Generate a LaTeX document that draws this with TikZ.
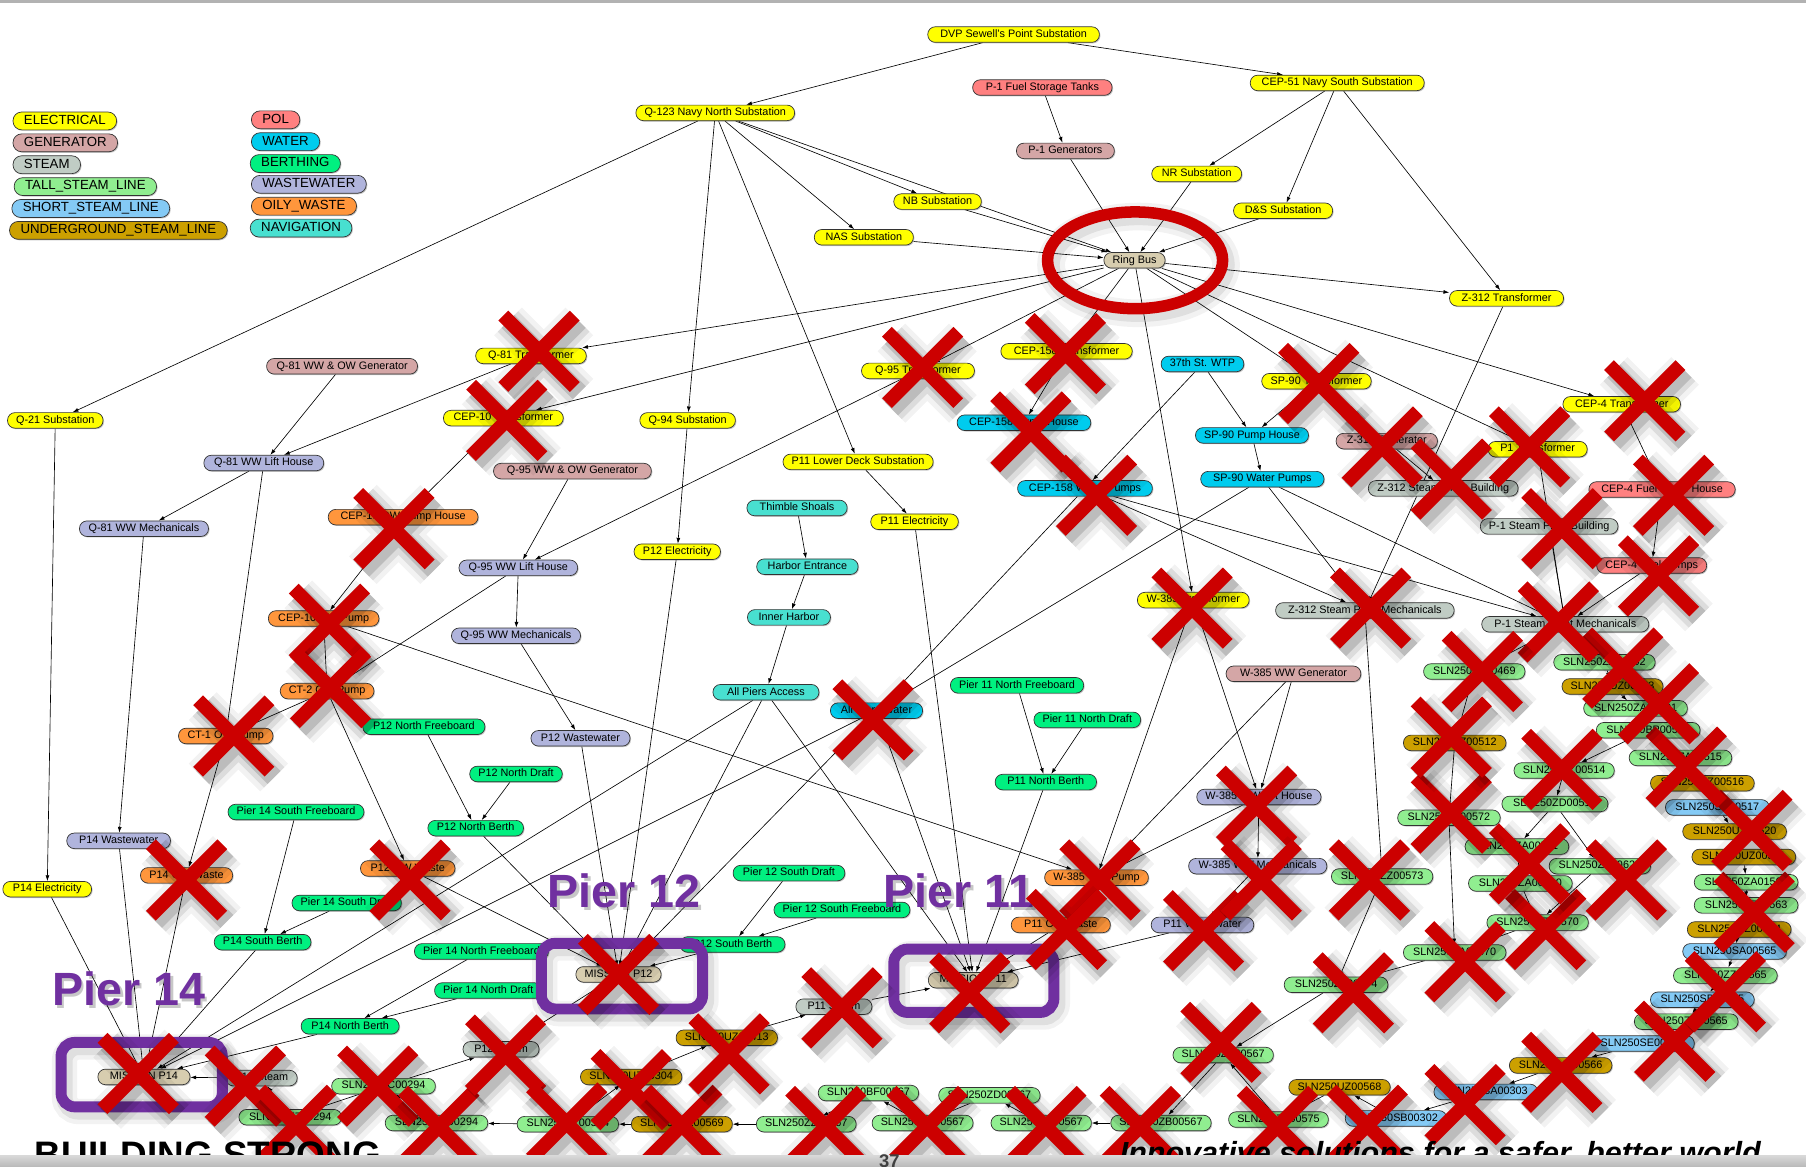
\documentclass[tikz,border=0pt]{standalone}
\usepackage{fontspec}
\setmainfont{Liberation Sans}
\usetikzlibrary{arrows.meta,shadows,backgrounds}

\definecolor{xred}{RGB}{204,0,0}
\definecolor{xpurple}{RGB}{112,48,160}
\definecolor{cElec}{RGB}{255,255,0}
\definecolor{cGen}{RGB}{212,166,166}
\definecolor{cSteam}{RGB}{192,204,196}
\definecolor{cTall}{RGB}{144,238,144}
\definecolor{cShort}{RGB}{132,202,245}
\definecolor{cUnder}{RGB}{204,160,0}
\definecolor{cPol}{RGB}{255,128,128}
\definecolor{cWater}{RGB}{0,204,238}
\definecolor{cBerth}{RGB}{0,240,128}
\definecolor{cWaste}{RGB}{176,180,220}
\definecolor{cOily}{RGB}{255,150,60}
\definecolor{cNav}{RGB}{72,224,208}
\definecolor{cMiss}{RGB}{215,205,175}

\newcommand\mknode[6]{\node[#1,minimum width=#5pt] (#2) at (#3,#4) {#6};}

\tikzset{
  box/.style={draw=black!80, line width=0.6pt, rounded corners=6.5pt,
    minimum height=13.5pt, inner xsep=7.5pt, inner ysep=0pt,
    text height=6.8pt, text depth=2pt, font=\fontsize{9.4}{10}\selectfont,
    drop shadow={shadow xshift=0.9pt, shadow yshift=-0.9pt, opacity=0.45}},
  leg/.style={box, font=\fontsize{11.5}{12}\selectfont, minimum height=15.5pt,
    rounded corners=7.5pt, inner xsep=9.5pt, text height=8.3pt, text depth=2.4pt, anchor=west},
  kElec/.style={box, fill=cElec},
  kGen/.style={box, fill=cGen},
  kSteam/.style={box, fill=cSteam},
  kTall/.style={box, fill=cTall},
  kShort/.style={box, fill=cShort},
  kUnder/.style={box, fill=cUnder},
  kPol/.style={box, fill=cPol},
  kWater/.style={box, fill=cWater},
  kBerth/.style={box, fill=cBerth},
  kWaste/.style={box, fill=cWaste},
  kOily/.style={box, fill=cOily},
  kNav/.style={box, fill=cNav},
  kMiss/.style={box, fill=cMiss},
  link/.style={draw=black, line width=0.55pt, -{Latex[length=5pt,width=3.4pt]}},
  pierlabel/.style={anchor=base west, inner sep=0pt, font=\fontsize{40.5}{40}\selectfont\bfseries},
  redx/.pic={
    \draw[line width=34pt, black, opacity=0.05] (-27,-26) -- (35,36) (35,-26) -- (-27,36);
    \draw[line width=25pt, black, opacity=0.09] (-27,-26) -- (35,36) (35,-26) -- (-27,36);
    \draw[line width=16pt, black, opacity=0.14] (-27,-26) -- (35,36) (35,-26) -- (-27,36);
    \draw[line width=12pt, xred] (-31,-31) -- (31,31) (31,-31) -- (-31,31);
  }
}

\begin{document}
\begin{tikzpicture}[x=1pt,y=-1pt]
\useasboundingbox (0,0) rectangle (1568,1013);

% ---------- legend ----------
\node[leg, fill=cElec]  (lgElec)  at (11,105) {ELECTRICAL};
\node[leg, fill=cGen]   (lgGen)   at (11,124) {GENERATOR};
\node[leg, fill=cSteam] (lgSteam) at (11,143) {STEAM};
\node[leg, fill=cTall]  (lgTall)  at (12,162) {TALL\_STEAM\_LINE};
\node[leg, fill=cShort] (lgShort) at (10,181) {SHORT\_STEAM\_LINE};
\node[leg, fill=cUnder] (lgUnder) at (8,200)  {UNDERGROUND\_STEAM\_LINE};
\node[leg, fill=cPol]   (lgPol)   at (218,104) {POL};
\node[leg, fill=cWater] (lgWater) at (218,123) {WATER};
\node[leg, fill=cBerth] (lgBerth) at (217,142) {BERTHING};
\node[leg, fill=cWaste] (lgWaste) at (218,160) {WASTEWATER};
\node[leg, fill=cOily]  (lgOily)  at (218,179) {OILY\_WASTE};
\node[leg, fill=cNav]   (lgNav)   at (217,198) {NAVIGATION};

% ---------- facility nodes ----------
\mknode{kElec}{dvp}{880}{30}{149}{DVP Sewell's Point Substation}
\mknode{kElec}{cep51}{1161}{72}{151}{CEP-51 Navy South Substation}
\mknode{kPol}{p1fst}{905}{76}{121}{P-1 Fuel Storage Tanks}
\mknode{kElec}{q123}{621}{98}{137}{Q-123 Navy North Substation}
\mknode{kGen}{p1gen}{925}{131}{85}{P-1 Generators}
\mknode{kElec}{nr}{1039}{151}{78}{NR Substation}
\mknode{kElec}{nb}{814}{175}{76}{NB Substation}
\mknode{kElec}{ds}{1114}{183}{86}{D\&S Substation}
\mknode{kElec}{nas}{750}{206}{86}{NAS Substation}
\mknode{kMiss}{ring}{985}{226}{52}{Ring Bus}
\mknode{kElec}{z312t}{1308}{259}{99}{Z-312 Transformer}
\mknode{kElec}{q81t}{461}{309}{96}{Q-81 Transformer}
\mknode{kGen}{q81gen}{297}{318}{131}{Q-81 WW \& OW Generator}
\mknode{kElec}{cep158t}{926}{305}{114}{CEP-158 Transformer}
\mknode{kElec}{q95t}{797}{322}{98}{Q-95 Transformer}
\mknode{kWater}{wtp37}{1044}{316}{70}{37th St. WTP}
\mknode{kElec}{sp90t}{1143}{331}{95}{SP-90 Transformer}
\mknode{kElec}{cep4t}{1408}{351}{102}{CEP-4 Transformer}
\mknode{kElec}{q21}{48}{365}{82}{Q-21 Substation}
\mknode{kElec}{cep10t}{437}{363}{104}{CEP-10 Transformer}
\mknode{kElec}{q94}{597}{365}{81}{Q-94 Substation}
\mknode{kWater}{cep158ph}{889}{367}{116}{CEP-158 Pump House}
\mknode{kWater}{sp90ph}{1087}{378}{97}{SP-90 Pump House}
\mknode{kGen}{z312gen}{1204}{383}{88}{Z-312 Generator}
\mknode{kElec}{p1t}{1335}{390}{86}{P1 Transformer}
\mknode{kWaste}{q81lh}{229}{402}{104}{Q-81 WW Lift House}
\mknode{kElec}{p11lds}{745}{401}{125}{P11 Lower Deck Substation}
\mknode{kGen}{q95gen}{497}{409}{137}{Q-95 WW \& OW Generator}
\mknode{kWater}{sp90wp}{1096}{416}{107}{SP-90 Water Pumps}
\mknode{kSteam}{z312spb}{1253}{424}{130}{Z-312 Steam Plant Building}
\mknode{kWater}{cep158wp}{942}{424}{117}{CEP-158 Water Pumps}
\mknode{kPol}{cep4fph}{1443}{425}{127}{CEP-4 Fuel Pump House}
\mknode{kNav}{thimble}{692}{441}{87}{Thimble Shoals}
\mknode{kOily}{cep10owph}{350}{449}{130}{CEP-10 OW Pump House}
\mknode{kSteam}{p1spb}{1345}{457}{119}{P-1 Steam Plant Building}
\mknode{kWaste}{q81mech}{125}{459}{112}{Q-81 WW Mechanicals}
\mknode{kElec}{p11el}{794}{453}{76}{P11 Electricity}
\mknode{kElec}{p12el}{588}{479}{75}{P12 Electricity}
\mknode{kNav}{harbor}{701}{492}{88}{Harbor Entrance}
\mknode{kWaste}{q95lh}{450}{493}{103}{Q-95 WW Lift House}
\mknode{kPol}{cep4fp}{1434}{491}{93}{CEP-4 Fuel Pumps}
\mknode{kElec}{w385t}{1036}{521}{97}{W-385 Transformer}
\mknode{kSteam}{z312spm}{1185}{530}{155}{Z-312 Steam Plant Mechanicals}
\mknode{kNav}{inner}{685}{536}{72}{Inner Harbor}
\mknode{kOily}{cep10owp}{281}{537}{96}{CEP-10 OW Pump}
\mknode{kSteam}{p1spm}{1359}{542}{145}{P-1 Steam Plant Mechanicals}
\mknode{kWaste}{q95mech}{448}{552}{112}{Q-95 WW Mechanicals}
\mknode{kTall}{s469}{1280}{583}{88}{SLN250ZZ00469}
\mknode{kTall}{s502}{1393}{575}{88}{SLN250ZZ00502}
\mknode{kGen}{w385gen}{1123}{585}{117}{W-385 WW Generator}
\mknode{kUnder}{s503}{1400}{596}{86}{SLN250UZ00503}
\mknode{kBerth}{p11nf}{883}{595}{114}{Pier 11 North Freeboard}
\mknode{kOily}{ct2}{284}{600}{81}{CT-2 OW Pump}
\mknode{kNav}{apa}{665}{601}{92}{All Piers Access}
\mknode{kTall}{s501}{1420}{615}{90}{SLN250ZA00501}
\mknode{kWater}{apw}{761}{617}{80}{All Piers Water}
\mknode{kBerth}{p11nd}{944}{625}{88}{Pier 11 North Draft}
\mknode{kBerth}{p12nf}{368}{631}{106}{P12 North Freeboard}
\mknode{kTall}{s505}{1431}{634}{90}{SLN250BP00505}
\mknode{kOily}{ct1}{196}{639}{82}{CT-1 OW Pump}
\mknode{kWaste}{p12ww}{504}{641}{86}{P12 Wastewater}
\mknode{kUnder}{s512}{1263}{645}{89}{SLN250UZ00512}
\mknode{kTall}{s515}{1459}{658}{89}{SLN250ZA00515}
\mknode{kTall}{s514}{1358}{669}{87}{SLN250ZZ00514}
\mknode{kBerth}{p12nd}{448}{672}{80}{P12 North Draft}
\mknode{kUnder}{s516}{1478}{680}{90}{SLN250UZ00516}
\mknode{kBerth}{p11nb}{908}{679}{88}{P11 North Berth}
\mknode{kWaste}{w385lh}{1093}{692}{107}{W-385 WW Lift House}
\mknode{kTall}{s513}{1350}{698}{92}{SLN250ZD00513}
\mknode{kShort}{s517}{1491}{701}{90}{SLN250SA00517}
\mknode{kBerth}{p14sf}{257}{705}{113}{Pier 14 South Freeboard}
\mknode{kTall}{s572}{1258}{710}{89}{SLN250ZZ00572}
\mknode{kBerth}{p12nb}{413}{719}{83}{P12 North Berth}
\mknode{kUnder}{s520}{1506}{722}{90}{SLN250UZ00520}
\mknode{kWaste}{p14ww}{103}{730}{90}{P14 Wastewater}
\mknode{kTall}{s511}{1317}{735}{90}{SLN250ZA00511}
\mknode{kUnder}{s521}{1514}{744}{90}{SLN250UZ00521}
\mknode{kTall}{s629}{1389}{752}{88}{SLN250ZZ00629}
\mknode{kWaste}{w385mech}{1092}{752}{120}{W-385 WW Mechanicals}
\mknode{kOily}{p12ow}{354}{754}{82}{P12 OW Waste}
\mknode{kBerth}{p12sd}{685}{758}{97}{Pier 12 South Draft}
\mknode{kOily}{p14ow}{162}{760}{80}{P14 OW Waste}
\mknode{kOily}{w385pump}{952}{762}{86}{W-385 WW Pump}
\mknode{kTall}{s573}{1200}{761}{88}{SLN250ZZ00573}
\mknode{kTall}{s562}{1516}{766}{90}{SLN250ZA01562}
\mknode{kTall}{s510}{1320}{767}{90}{SLN250ZA00510}
\mknode{kElec}{p14el}{41}{772}{77}{P14 Electricity}
\mknode{kBerth}{p14sd}{301}{784}{91}{Pier 14 South Draft}
\mknode{kTall}{s563}{1516}{786}{90}{SLN250ZZ00563}
\mknode{kBerth}{p12sf}{731}{790}{118}{Pier 12 South Freeboard}
\mknode{kTall}{s570u}{1335}{801}{88}{SLN250ZZ00570}
\mknode{kOily}{p11ow}{921}{803}{86}{P11 OW Waste}
\mknode{kWaste}{p11ww}{1044}{803}{89}{P11 Wastewater}
\mknode{kUnder}{s564}{1510}{807}{90}{SLN250UZ00564}
\mknode{kBerth}{p14sb}{228}{818}{83}{P14 South Berth}
\mknode{kBerth}{p12sb}{636}{820}{91}{P12 South Berth}
\mknode{kBerth}{p14nf}{418}{826}{114}{Pier 14 North Freeboard}
\mknode{kShort}{s565sa}{1506}{826}{90}{SLN250SA00565}
\mknode{kTall}{s570l}{1263}{827}{89}{SLN250ZA00570}
\mknode{kMiss}{mp12}{537}{846}{74}{MISSION P12}
\mknode{kTall}{s565zz}{1498}{847}{90}{SLN250ZZ00565}
\mknode{kMiss}{mp11}{845}{851}{78}{MISSION P11}
\mknode{kTall}{s574}{1160}{855}{90}{SLN250ZZ00574}
\mknode{kBerth}{p14nd}{424}{860}{85}{Pier 14 North Draft}
\mknode{kShort}{s565sb}{1478}{868}{90}{SLN250SB00565}
\mknode{kSteam}{p11steam}{724}{874}{66}{P11 Steam}
\mknode{kTall}{s565za}{1464}{887}{90}{SLN250ZA00565}
\mknode{kBerth}{p14nb}{304}{891}{85}{P14 North Berth}
\mknode{kUnder}{s413}{631}{901}{88}{SLN250UZ00413}
\mknode{kShort}{s565se}{1426}{906}{90}{SLN250SE00565}
\mknode{kSteam}{p12steam}{435}{911}{66}{P12 Steam}
\mknode{kTall}{s567za}{1062}{916}{85}{SLN250ZA00567}
\mknode{kUnder}{s566}{1355}{925}{89}{SLN250UZ00566}
\mknode{kMiss}{mp14}{125}{935}{80}{MISSION P14}
\mknode{kSteam}{p14steam}{227}{936}{62}{P14 Steam}
\mknode{kUnder}{s304u}{548}{935}{88}{SLN250UZ00304}
\mknode{kTall}{s294c}{333}{943}{90}{SLN250ZC00294}
\mknode{kUnder}{s568}{1163}{944}{88}{SLN250UZ00568}
\mknode{kShort}{s303}{1290}{948}{90}{SLN250SA00303}
\mknode{kTall}{s567bf}{754}{949}{86}{SLN250BF00567}
\mknode{kTall}{s567zd}{859}{951}{88}{SLN250ZD00567}
\mknode{kTall}{s294l}{252}{970}{89}{SLN250ZZ00294}
\mknode{kShort}{s302}{1212}{971}{88}{SLN250SB00302}
\mknode{kTall}{s575}{1110}{972}{84}{SLN250ZZ00575}
\mknode{kTall}{s294r}{379}{975}{89}{SLN250ZA00294}
\mknode{kTall}{s304z}{493}{976}{88}{SLN250ZZ00304}
\mknode{kUnder}{s569}{592}{976}{82}{SLN250UZ00569}
\mknode{kTall}{s567a}{700}{976}{84}{SLN250ZZ00567}
\mknode{kTall}{s567b}{801}{975}{85}{SLN250ZC00567}
\mknode{kTall}{s567az}{904}{975}{87}{SLN250AZ00567}
\mknode{kTall}{s567zb}{1008}{975}{84}{SLN250ZB00567}

% ---------- dependency links (behind the nodes) ----------
\begin{pgfonlayer}{background}
\fill[white] (0,0) rectangle (1568,1013);
\foreach \a/\b in {dvp/q123, dvp/cep51,
  q123/q21, q123/q94, q123/p11lds, q123/nas, q123/nb, q123/ring,
  cep51/nr, cep51/ds, cep51/z312t,
  p1fst/p1gen, p1gen/ring, nr/ring, nb/ring, nas/ring, ds/ring,
  ring/q81t, ring/cep10t, ring/q95t, ring/cep158t, ring/z312t, ring/sp90t, ring/p1t, ring/cep4t, ring/w385t,
  q81gen/q81lh, q81t/q81lh, q81lh/q81mech, q81lh/ct1, ct1/p14ow, p14ow/mp14,
  q81mech/p14ww, p14ww/mp14, q21/p14el, p14el/mp14,
  cep10t/cep10owph, cep10owph/cep10owp, cep10owp/ct2, cep10owp/w385pump, ct2/ct1, ct2/p12ow, p12ow/mp12,
  q95gen/q95lh, q95t/q95lh, q95lh/q95mech, q95lh/ct2, q95mech/p12ww, p12ww/mp12,
  q94/p12el, p12el/mp12, p11lds/p11el, p11el/mp11,
  thimble/harbor, harbor/inner, inner/apa, apa/mp14, apa/mp12, apa/mp11,
  cep158t/cep158ph, cep158ph/cep158wp, wtp37/cep158wp, wtp37/sp90ph, sp90t/sp90ph, sp90ph/sp90wp,
  cep158wp/apw, sp90wp/apw, apw/mp14, apw/mp12, apw/mp11,
  cep158wp/z312spm, cep158wp/p1spm, sp90wp/z312spm, sp90wp/p1spm,
  z312t/z312spm, z312gen/z312spb, p1t/p1spm, cep4t/cep4fph, cep4fph/cep4fp, cep4fp/p1spm, p1spb/p1spm,
  w385t/w385pump, w385t/w385lh, w385gen/w385lh, w385gen/w385pump, w385lh/w385mech, w385lh/w385pump,
  w385pump/p11ow, w385mech/p11ww, p11ow/mp11, p11ww/mp11,
  p11nf/p11nb, p11nd/p11nb, p11nb/mp11,
  p12nf/p12nb, p12nd/p12nb, p12nb/mp12,
  p12sd/p12sb, p12sf/p12sb, p12sb/mp12,
  p14sf/p14sb, p14sd/p14sb, p14sb/mp14,
  p14nf/p14nb, p14nd/p14nb, p14nb/mp14,
  p14steam/mp14, p12steam/mp12, p11steam/mp11,
  z312spm/s573, s573/s574, p1spm/s469, p1spm/s502,
  s469/s512, s512/s572, s572/s570l,
  s502/s503, s503/s501, s501/s505, s505/s514, s514/s513, s513/s511, s513/s629, s511/s510,
  s510/s570u, s629/s570u, s570u/s570l, s570l/s574, s574/s567za,
  s505/s515, s515/s516, s516/s517, s517/s520, s520/s521, s521/s562, s562/s563, s563/s564,
  s564/s565sa, s565sa/s565zz, s565zz/s565sb, s565sb/s565za, s565za/s565se, s565se/s566,
  s566/s303, s303/s302, s302/s568, s568/s575, s575/s567za, s567za/s567zb, s567zb/s567az,
  s567az/s567zd, s567zd/s567b, s567b/s567bf, s567bf/s567a, s567a/s569, s569/s304z,
  s304z/s294r, s304z/s304u, s304u/s413, s413/p11steam, s294r/s294c, s294c/p12steam,
  s294c/s294l, s294l/p14steam}
  \draw[link] (\a) -- (\b);
\end{pgfonlayer}

% ---------- pier frames ----------
\foreach \xa/\ya/\xb/\yb in {53/905/193/961, 470/819/610/876, 776/824/915/879} {
  \draw[line width=22pt, black, opacity=0.05, rounded corners=12pt] (\xa+3,\ya+4) rectangle (\xb+3,\yb+4);
  \draw[line width=14pt, black, opacity=0.08, rounded corners=12pt] (\xa+3,\ya+4) rectangle (\xb+3,\yb+4);
  \draw[line width=9.5pt, xpurple, rounded corners=12pt] (\xa,\ya) rectangle (\xb,\yb);
}

% ---------- pier captions ----------
\foreach \px/\py/\txt/\nm in {45/873/Pier 14/cap14, 475/788/Pier 12/cap12, 767/788/Pier 11/cap11} {
  \node[pierlabel, text=black, opacity=0.22] at (\px+2.5,\py+2.5) {\txt};
  \node[pierlabel, text=xpurple] (\nm) at (\px,\py) {\txt};
}

% ---------- ring bus highlight ----------
\draw[line width=24pt, black, opacity=0.05] (988.5,230) ellipse [x radius=76, y radius=42];
\draw[line width=15pt, black, opacity=0.08] (988.5,230) ellipse [x radius=76, y radius=42];
\draw[line width=10pt, xred] (985.5,226) ellipse [x radius=76, y radius=42];

% ---------- crossed-out items ----------
\foreach \cx/\cy in {468/305, 440/365, 342/459, 286/542, 287/597, 203/639, 162/764, 356/764,
  120/932, 213/943, 257/977, 328/943, 381/978, 439/916, 492/975, 537/846, 548/946, 592/977,
  633/915, 731/875, 842/862, 717/978, 805/978, 908/978, 990/978, 955/764, 926/807, 1045/808,
  1091/700, 1095/764, 1035/528, 1189/764, 1175/862, 1272/835, 1342/807, 1328/750, 1412/764,
  1260/706, 1356/668, 1060/905, 1109/978, 1187/977, 1272/959, 1356/931, 1454/904, 1498/861,
  1523/792, 1521/721, 1464/666, 1409/580, 1440/611, 1145/333, 1428/348, 1200/388, 1260/416,
  1328/388, 1453/430, 1356/459, 1440/500, 1353/540, 1190/528, 1287/583, 1260/640, 801/319,
  925/307, 895/375, 952/430, 758/625}
  \pic at (\cx,\cy) {redx};

% ---------- slide frame ----------
\fill[gray!60] (0,0) rectangle (1568,3);
\begin{scope}
  \clip (0,0) rectangle (1568,1013);
  \node[anchor=base west, inner sep=0pt, font=\fontsize{32}{32}\selectfont\bfseries] (brand) at (30,1014)
    {BUILDING STRONG\fontsize{12}{12}\selectfont\textregistered};
  \node[anchor=base west, inner sep=0pt, font=\fontsize{26.5}{26.5}\selectfont\bfseries\itshape] (motto) at (972,1010)
    {Innovative solutions for a safer, better world};
  \shade[top color=gray!30, bottom color=gray!55] (0,1003) rectangle (1568,1013);
  \node[anchor=north west, inner sep=0pt, text=black!75, font=\fontsize{16}{16}\selectfont\bfseries] (pageno) at (763,1002) {37};
\end{scope}
\end{tikzpicture}
\end{document}
